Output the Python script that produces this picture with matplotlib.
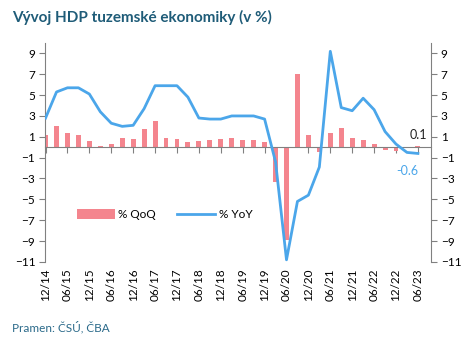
import numpy as np
import matplotlib.pyplot as plt
from matplotlib.patches import Patch
from matplotlib.lines import Line2D

plt.rcParams['font.family'] = ['Lato', 'DejaVu Sans']

# quarterly data, 2014Q4 .. 2023Q2
labels = ['12/14', '03/15', '06/15', '09/15', '12/15', '03/16', '06/16', '09/16', '12/16',
          '03/17', '06/17', '09/17', '12/17', '03/18', '06/18', '09/18', '12/18',
          '03/19', '06/19', '09/19', '12/19', '03/20', '06/20', '09/20', '12/20',
          '03/21', '06/21', '09/21', '12/21', '03/22', '06/22', '09/22', '12/22',
          '03/23', '06/23']
qoq = [1.2, 2.0, 1.4, 1.2, 0.6, 0.1, 0.3, 0.9, 0.8,
       1.7, 2.5, 0.9, 0.8, 0.5, 0.6, 0.7, 0.8,
       0.9, 0.7, 0.7, 0.5, -3.3, -8.9, 7.0, 1.2,
       -0.5, 1.4, 1.8, 0.9, 0.7, 0.3, -0.3, -0.4,
       -0.1, 0.1]
yoy = [2.8, 5.3, 5.7, 5.7, 5.1, 3.4, 2.3, 2.0, 2.1,
       3.7, 5.9, 5.9, 5.9, 4.8, 2.8, 2.7, 2.7,
       3.0, 3.0, 3.0, 2.7, -1.4, -10.8, -5.2, -4.6,
       -1.9, 9.2, 3.8, 3.5, 4.7, 3.6, 1.5, 0.3,
       -0.5, -0.6]

pink = '#F4858E'
blue = '#4BA6EA'
grey = '#808080'

x = np.arange(len(labels))

fig = plt.figure(figsize=(4.64, 3.41), dpi=100)
ax = fig.add_axes([0.097, 0.232, 0.832, 0.642])

ax.bar(x, qoq, width=0.45, color=pink, zorder=2)
ax.plot(x, yoy, color=blue, lw=2, zorder=3)

ax.set_xlim(-0.05, 35.2)
ax.set_ylim(-11, 10)
ax.set_yticks(np.arange(-11, 10, 2))
ax.set_xticks(x[::2])
ax.set_xticklabels([])

for s in ['top', 'right']:
    ax.spines[s].set_visible(False)
ax.spines['bottom'].set_position(('data', 0))
ax.spines['bottom'].set_color(grey)
ax.spines['left'].set_color(grey)
ax.tick_params(axis='y', length=4, color=grey, labelsize=8.5, pad=3)
ax.tick_params(axis='x', length=4, color=grey, direction='out')
for xi, lab in zip(x[::2], labels[::2]):
    ax.text(xi, -11.6, lab, rotation=90, ha='center', va='top', fontsize=8.5,
            clip_on=False)

ax2 = ax.twinx()
ax2.set_ylim(-11, 10)
ax2.set_yticks(np.arange(-11, 10, 2))
for s in ['top', 'left', 'bottom']:
    ax2.spines[s].set_visible(False)
ax2.spines['right'].set_color(grey)
ax2.tick_params(axis='y', length=4, color=grey, labelsize=8.5, pad=3)

ax.text(x[-1], 1.2, '0.1', ha='center', va='center', fontsize=9, color='#222222')
ax.text(x[-1] - 1.0, -2.3, '-0.6', ha='center', va='center', fontsize=9, color=blue)

handles = [Patch(facecolor=pink, edgecolor='none'), Line2D([0], [0], color=blue, lw=2)]
ax.legend(handles, ['% QoQ', '% YoY'], loc='center', bbox_to_anchor=(0.31, 0.215), ncol=2,
          frameon=False, fontsize=8.5, handlelength=3.2, handleheight=0.9, columnspacing=1.8,
          handletextpad=0.3)

fig.text(0.026, 0.95, 'Vývoj HDP tuzemské ekonomiky (v %)', fontsize=11, fontweight='bold',
         color='#1F5C78', va='center')
fig.text(0.026, 0.04, 'Pramen: ČSÚ, ČBA', fontsize=8.5, color='#2B6A8A', va='center')

fig.savefig('out.png', dpi=100)
